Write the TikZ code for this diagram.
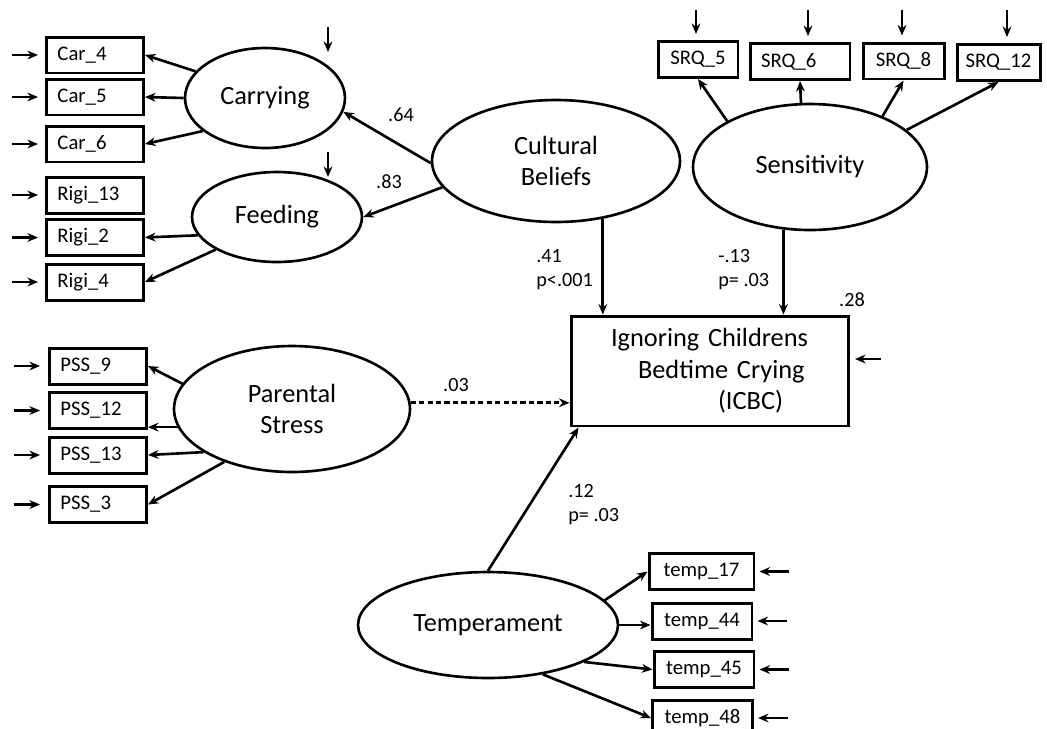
\documentclass[tikz,border=0pt]{standalone}
\usepackage{fontspec}
\setmainfont{Carlito}
\usepackage{tikz}
\usetikzlibrary{positioning}
\usetikzlibrary{shapes.geometric}
\usetikzlibrary{arrows.meta}
\tikzset{lat/.style={ellipse, draw, line width=1.5pt, inner sep=0pt, align=center, font=\fontsize{15}{18}\selectfont}}
\tikzset{obs/.style={rectangle, draw, line width=1.7pt, inner sep=0pt, minimum height=0.72cm, font=\fontsize{11.8}{13}\selectfont}}
\tikzset{lbox/.style={obs, anchor=west, text width=1.5cm, inner xsep=0.22cm, align=left}}
\tikzset{arr/.style={-{Stealth[length=6pt,width=5pt]}, line width=1.5pt}}
\tikzset{err/.style={arr, line width=1.4pt}}
\tikzset{coef/.style={font=\fontsize{11.5}{13.6}\selectfont, align=left, inner sep=0pt}}

\begin{document}
\begin{tikzpicture}[x=0.02cm, y=-0.02cm]
\useasboundingbox (0,0) rectangle (1047,728);

% latent variables
\node[lat, minimum width=3.2cm, minimum height=2cm] (carry) at (265,98) {Carrying};
\node[lat, minimum width=3.4cm, minimum height=1.8cm] (feed) at (277,217) {Feeding};
\node[lat, minimum width=4.96cm, minimum height=2.44cm] (cult) at (556,161) {Cultural\\Beliefs};
\node[lat, minimum width=4.68cm, minimum height=2.52cm] (sens) at (810,167) {Sensitivity};
\node[lat, minimum width=4.72cm, minimum height=2.52cm] (parent) at (292,409) {Parental\\Stress};
\node[lat, minimum width=5.2cm, minimum height=2.12cm] (temper) at (488,625) {Temperament};

% outcome
\node[obs, minimum width=5.56cm, minimum height=2.2cm, text width=3.96cm, align=left, font=\fontsize{15}{18}\selectfont] (icbc) at (710,371) {Ignoring Childrens\\\hspace*{0.54cm}Bedtime Crying\\\hspace*{2.14cm}(ICBC)};

% indicators
\node[lbox] (car4) at (45,55) {Car\_4};
\node[lbox] (car5) at (45,97) {Car\_5};
\node[lbox] (car6) at (45,144) {Car\_6};
\node[lbox] (rigi13) at (45,195) {Rigi\_13};
\node[lbox] (rigi2) at (45,237.5) {Rigi\_2};
\node[lbox] (rigi4) at (45,282) {Rigi\_4};
\node[lbox] (pss9) at (48,366) {PSS\_9};
\node[lbox] (pss12) at (48,410.5) {PSS\_12};
\node[lbox] (pss13) at (48,455) {PSS\_13};
\node[lbox] (pss3) at (48,504.5) {PSS\_3};
\node[obs, minimum width=1.6cm] (srq5) at (698,59.5) {SRQ\_5};
\node[obs, text width=1.56cm, inner xsep=0.22cm, align=left] (srq6) at (800,61.5) {SRQ\_6};
\node[obs, minimum width=1.62cm] (srq8) at (903.5,61) {SRQ\_8};
\node[obs, minimum width=1.66cm] (srq12) at (998.5,62.5) {SRQ\_12};
\node[obs, minimum width=2.1cm] (temp17) at (701.5,571.5) {temp\_17};
\node[obs, minimum width=2cm] (temp44) at (702,621) {temp\_44};
\node[obs, minimum width=2cm] (temp45) at (704,669.5) {temp\_45};
\node[obs, minimum width=2cm] (temp48) at (702.5,718) {temp\_48};

% error terms
\foreach \b in {car4,car5,car6,rigi13,rigi2,rigi4}{
  \coordinate[left=0.66cm of \b.west] (e\b);
  \draw[err, shorten >=0.14cm] (e\b) -- (\b.west);
}
\foreach \b in {pss9,pss12,pss13,pss3}{
  \coordinate[left=0.68cm of \b.west] (e\b);
  \draw[err, shorten >=0.16cm] (e\b) -- (\b.west);
}
\foreach \b in {temp17,temp44,temp45,temp48}{
  \coordinate[right=0.68cm of \b.east] (e\b);
  \draw[err, shorten >=0.08cm] (e\b) -- (\b.east);
}
\foreach \b/\x in {srq5/696,srq6/808,srq8/902,srq12/1007}{
  \coordinate (e\b) at (\x,10);
  \draw[err, shorten >=0.12cm] (e\b) -- (e\b |- \b.north);
}
\coordinate (ecarry) at (328,27);
\coordinate (dcarry) at (328,52);
\coordinate (efeed) at (328,152);
\coordinate (dfeed) at (328,177);
\coordinate (eicbc) at (881,359);
\coordinate (dicbc) at (855,359);
\draw[err] (ecarry) -- (dcarry);
\draw[err] (efeed) -- (dfeed);
\draw[err] (eicbc) -- (dicbc);

% loadings
\draw[arr] (carry.159) -- (car4.east);
\draw[arr] (carry.west) -- (car5.east);
\draw[arr] (carry.208) -- (car6.east);
\draw[arr] (feed.193) -- (rigi2.east);
\draw[arr] (feed.208) -- (rigi4.east);
\draw[arr] (sens.151) -- (srq5.south);
\draw[arr] (sens.98) -- (srq6.south);
\draw[arr] (sens.35) -- (srq8.south);
\draw[arr] (sens.21) -- (srq12.south);
\draw[arr] (parent.167) -- (pss9.east);
\draw[arr] (parent.189) -- (parent.189 -| pss12.east);
\draw[arr] (parent.206) -- (pss13.east);
\draw[arr] (parent.218) -- (pss3.east);
\draw[arr] (temper.12) -- (temp17.west);
\draw[arr] (temper.east) -- (temper.east -| temp44.west);
\draw[arr] (temper.-21) -- (temp45.west);
\draw[arr] (temper.-42) -- (temp48.west);

% structural paths
\draw[arr] (cult.181) -- (carry.-10);
\draw[arr] (cult.193) -- (feed.east);
\draw[arr] (cult.-51) -- (cult.-51 |- icbc.north);
\draw[arr] (sens.247) -- (sens.247 |- icbc.north);
\draw[arr, line width=1.7pt, dash pattern=on 3pt off 1.8pt] (parent.3) -- (parent.3 -| icbc.west);
\draw[arr] (temper.north) -- ([xshift=0.18cm]icbc.south west);

% coefficients
\node[coef] (l64) at (401,115) {.64};
\node[coef] (l83) at (389,182) {.83};
\node[coef, anchor=west] (l41) at (536,270) {.41\\p<.001};
\node[coef, anchor=west] (l13) at (718,270) {-.13\\p= .03};
\node[coef] (l03) at (456,385) {.03};
\node[coef, anchor=west] (l12) at (568,505) {.12\\p= .03};
\node[coef] (l28) at (852,300) {.28};
\end{tikzpicture}
\end{document}
